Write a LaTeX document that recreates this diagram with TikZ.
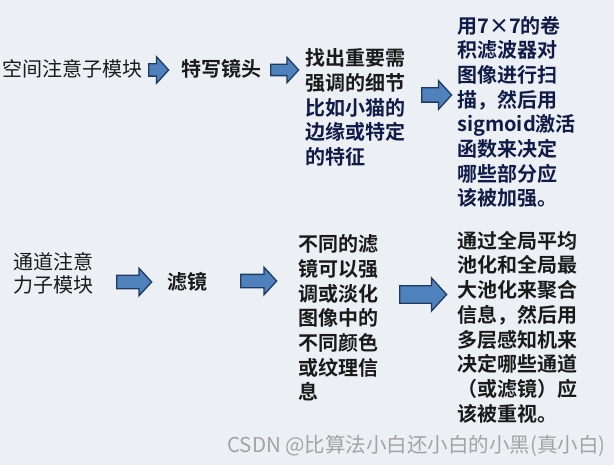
\documentclass[tikz,border=0pt]{standalone}
\usepackage{fontspec}
\usepackage{tikz}
\usetikzlibrary{shapes.arrows}
\newfontfamily\cjk[BoldFont={Noto Sans CJK SC Bold}]{Noto Sans CJK SC}
\definecolor{bgpanel}{HTML}{ECF0F5}
\definecolor{arrowfill}{HTML}{4F81BD}
\definecolor{arrowline}{HTML}{1F3A5F}
\definecolor{inktext}{HTML}{1A1A1A}
\definecolor{navytext}{HTML}{101C48}
\definecolor{markgray}{HTML}{A3A3A3}

\begin{document}
\begin{tikzpicture}[x=1pt, y=-1pt,
    every node/.style={font=\cjk\fontsize{20}{24.7}\selectfont, inner sep=0pt, anchor=west},
    modlabel/.style={color=inktext, align=left, font=\cjk\fontsize{20}{23}\selectfont},
    keylabel/.style={color=inktext, font=\cjk\bfseries\fontsize{20}{24.7}\selectfont},
    descblock/.style={align=left, font=\cjk\bfseries\fontsize{20}{24.7}\selectfont},
    blockarrow/.style={single arrow, draw=arrowline, fill=arrowfill, line width=1.3pt, single arrow tip angle=95, text depth=0pt},
]
\fill[bgpanel] (0,0) rectangle (614,465);
\useasboundingbox (0,0) rectangle (614,465);
% spatial branch
\node[modlabel] (spacemod) at (2,69) {空间注意子模块};
\node[keylabel] (closeup) at (181,69) {特写镜头};
\node[descblock, color=navytext] (detailtxt) at (305,107.5) {\textcolor{inktext}{找出重要需}\\\textcolor{inktext}{强调的细节}\\比如小猫的\\边缘或特定\\的特征};
\node[descblock, color=navytext] (convtxt) at (457,112) {用7×7的卷\\积滤波器对\\图像进行扫\\描，然后用\\sigmoid激活\\函数来决定\\哪些部分应\\该被加强。};
\node[blockarrow, minimum height=20pt, minimum width=22pt, text height=11pt] (arrA) at (148,70) {};
\node[blockarrow, minimum height=28pt, minimum width=22pt, text height=10pt] (arrB) at (270,70) {};
\node[blockarrow, minimum height=30pt, minimum width=27pt, text height=13pt] (arrC) at (421,95) {};
% channel branch
\node[modlabel] (chanmod) at (13,273.5) {通道注意\\力子模块};
\node[keylabel] (filter) at (167,282) {滤镜};
\node[descblock, color=inktext] (colortxt) at (298,318) {不同的滤\\镜可以强\\调或淡化\\图像中的\\不同颜色\\或纹理信\\息};
\node[descblock, color=inktext] (pooltxt) at (457,327) {通过全局平均\\池化和全局最\\大池化来聚合\\信息，然后用\\多层感知机来\\决定哪些通道\\（或滤镜）应\\该被重视。};
\node[blockarrow, minimum height=35pt, minimum width=24pt, text height=12pt] (arrD) at (116,282) {};
\node[blockarrow, minimum height=36pt, minimum width=23pt, text height=12pt] (arrE) at (240,281) {};
\node[blockarrow, minimum height=47pt, minimum width=33pt, text height=15pt] (arrF) at (399,294.5) {};
% watermark
\node[anchor=east, color=markgray, font=\cjk\fontsize{20.5}{24}\selectfont] (mark) at (606,446) {CSDN @比算法小白还小白的小黑(真小白)};
\end{tikzpicture}
\end{document}
